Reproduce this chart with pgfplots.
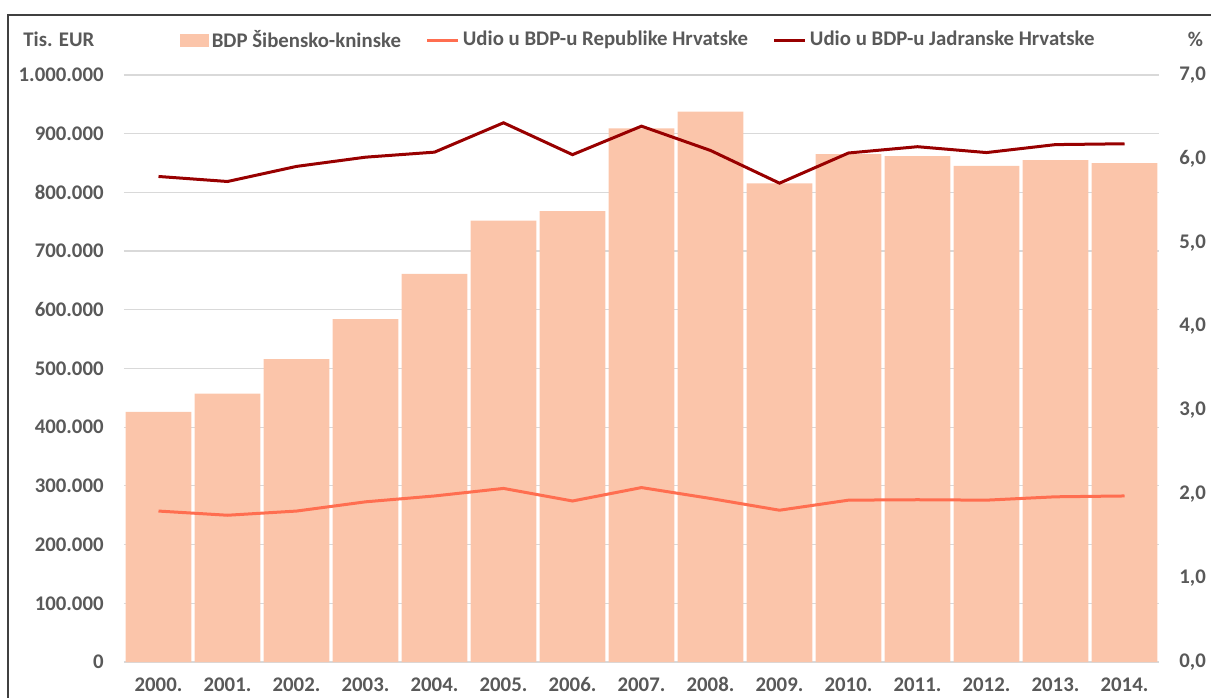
\documentclass[border=0pt]{standalone}
\usepackage{fontspec}
\setmainfont{Carlito}
\usepackage{pgfplots}
\pgfplotsset{compat=1.18}
\definecolor{barc}{RGB}{251,197,170}
\definecolor{linea}{RGB}{255,110,80}
\definecolor{lineb}{RGB}{152,0,0}
\definecolor{txt}{RGB}{89,89,89}
\definecolor{gridc}{RGB}{217,217,217}
\definecolor{framec}{RGB}{64,64,64}
\newcommand{\lf}{\fontsize{10.4}{12}\selectfont\bfseries\color{txt}}
\begin{document}
\begin{tikzpicture}
\path[use as bounding box] (0,0) rectangle (605.5pt,348.5pt);
\clip (0,0) rectangle (605.5pt,348.5pt);
\draw[line width=1pt, framec] (4pt,-5pt) -- (4pt,341pt) -- (615pt,341pt);
\node[anchor=west, inner sep=0pt, font=\lf] at (11.5pt,329pt) {Tis. EUR};
\node[anchor=center, inner sep=0pt, font=\lf] at (597.75pt,329pt) {\%};
\begin{axis}[
  at={(62pt,17.5pt)}, anchor=south west,
  scale only axis, width=517.5pt, height=293.5pt,
  xmin=-0.5, xmax=14.5, ymin=0, ymax=1000000,
  axis lines=left, axis line style={draw=none},
  major tick length=0pt,
  ytick={0,100000,...,1000000},
  scaled y ticks=false,
  ymajorgrids, grid style={gridc, line width=0.6pt},
  xtick={0,...,14},
  xticklabels={2000.,2001.,2002.,2003.,2004.,2005.,2006.,2007.,2008.,2009.,2010.,2011.,2012.,2013.,2014.},
  ticklabel style={font=\lf},
  xticklabel style={inner sep=0pt, text depth=0pt, anchor=north, yshift=-7.5pt},
  yticklabel style={inner sep=0pt, anchor=east, xshift=-10pt},
  /pgf/number format/assume math mode=true,
  yticklabel style={/pgf/number format/.cd, fixed, precision=0, 1000 sep={.}},
]
\addplot[ybar, bar width=0.955, fill=barc, draw=none] coordinates {
(0,426000) (1,457000) (2,516000) (3,584000) (4,661000) (5,752000) (6,768000)
(7,909000) (8,937500) (9,815500) (10,865400) (11,862000) (12,845000) (13,855000) (14,850000)};
\end{axis}
\begin{axis}[
  at={(62pt,17.5pt)}, anchor=south west,
  scale only axis, width=517.5pt, height=293.5pt,
  xmin=-0.5, xmax=14.5, ymin=0, ymax=7,
  axis x line=none,
  axis y line*=right, axis line style={draw=none},
  major tick length=0pt,
  ytick={0,1,...,7},
  ticklabel style={font=\lf},
  yticklabel style={inner sep=0pt, anchor=west, xshift=10pt},
  /pgf/number format/assume math mode=true,
  yticklabel style={/pgf/number format/.cd, fixed, fixed zerofill, precision=1, use comma},
  legend columns=3,
  legend style={draw=none, fill=none, inner sep=0pt, outer sep=0pt,
    at={(axis description cs:0.0541,1.0596)}, anchor=west,
    font=\lf,
    nodes={inner sep=0pt},
    /tikz/every odd column/.append style={column sep=1.5pt},
    /tikz/every even column/.append style={column sep=12.5pt}},
  legend cell align=left,
]
\addlegendimage{legend image code/.code={\fill[barc] (0pt,-3pt) rectangle (14pt,3pt);}}
\addlegendentry{BDP Šibensko-kninske}
\addplot[linea, line width=1.5pt, legend image code/.code={\draw[linea, line width=1.5pt] (0pt,0pt) -- (15.5pt,0pt);}] coordinates {
(0,1.80) (1,1.75) (2,1.80) (3,1.91) (4,1.98) (5,2.07) (6,1.92) (7,2.08)
(8,1.95) (9,1.81) (10,1.93) (11,1.935) (12,1.93) (13,1.97) (14,1.98)};
\addlegendentry{Udio u BDP-u Republike Hrvatske}
\addplot[lineb, line width=1.5pt, legend image code/.code={\draw[lineb, line width=1.5pt] (0pt,0pt) -- (15.5pt,0pt);}] coordinates {
(0,5.79) (1,5.73) (2,5.91) (3,6.02) (4,6.08) (5,6.43) (6,6.05) (7,6.39)
(8,6.10) (9,5.71) (10,6.07) (11,6.145) (12,6.075) (13,6.17) (14,6.18)};
\addlegendentry{Udio u BDP-u Jadranske Hrvatske}
\end{axis}
\end{tikzpicture}
\end{document}
